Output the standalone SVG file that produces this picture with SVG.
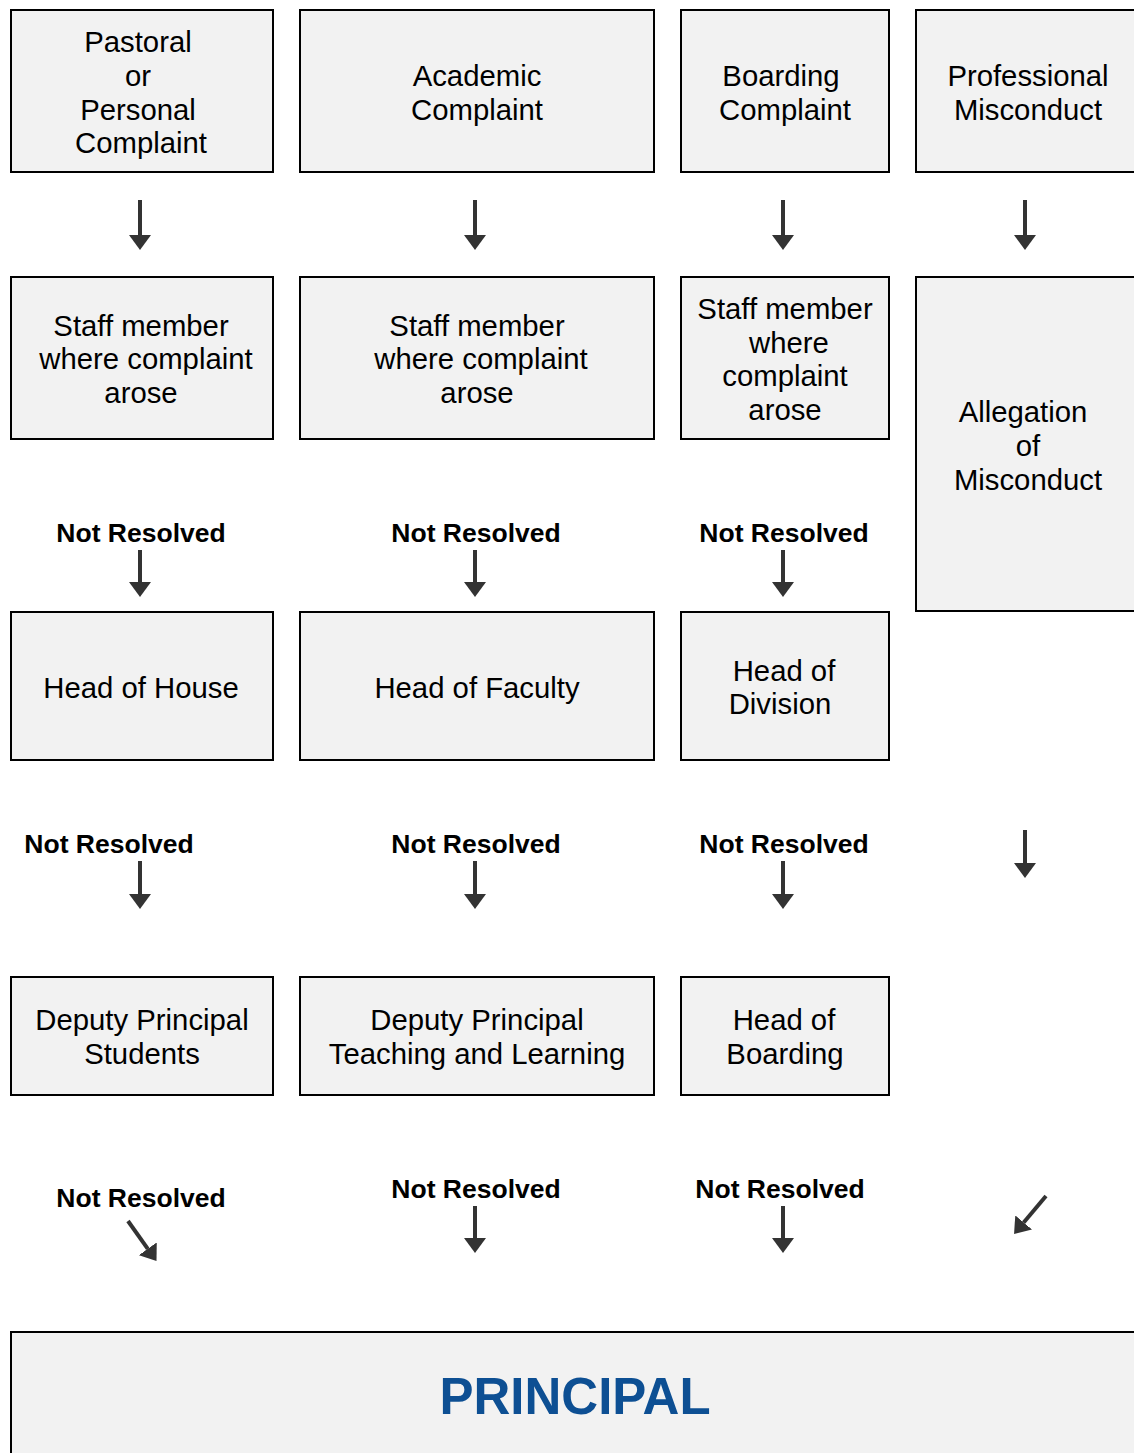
<svg xmlns="http://www.w3.org/2000/svg" width="1134" height="1453" viewBox="0 0 1134 1453">
<defs>
<style>
.box{fill:#f2f2f2;stroke:#000;stroke-width:2}
.t{font-family:"Liberation Sans",Arial,sans-serif;font-size:29.3px;fill:#000;text-anchor:middle}
.nr{font-family:"Liberation Sans",Arial,sans-serif;font-size:26.5px;font-weight:bold;fill:#000;text-anchor:middle}
.p{font-family:"Liberation Sans",Arial,sans-serif;font-size:51px;font-weight:bold;fill:#0d4f93;text-anchor:middle}
.a{stroke:#333;stroke-width:4;fill:none;marker-end:url(#ah)}
</style>
<marker id="ah" markerUnits="userSpaceOnUse" markerWidth="16" markerHeight="22" refX="0" refY="11" orient="auto">
<path d="M0,0 L15,11 L0,22 Z" fill="#333"/>
</marker>
</defs>
<rect width="1134" height="1453" fill="#fff"/>

<g id="n-pastoral"><rect class="box" x="11" y="10" width="262" height="162"/>
<text class="t"><tspan x="138" y="52">Pastoral</tspan><tspan x="138" y="86">or</tspan><tspan x="138" y="120">Personal</tspan><tspan x="141" y="153">Complaint</tspan></text></g>
<g id="n-academic"><rect class="box" x="300" y="10" width="354" height="162"/>
<text class="t"><tspan x="477" y="86">Academic</tspan><tspan x="477" y="120">Complaint</tspan></text></g>
<g id="n-boarding"><rect class="box" x="681" y="10" width="208" height="162"/>
<text class="t"><tspan x="781" y="86">Boarding</tspan><tspan x="785" y="120">Complaint</tspan></text></g>
<g id="n-professional"><rect class="box" x="916" y="10" width="230" height="162"/>
<text class="t"><tspan x="1028" y="86">Professional</tspan><tspan x="1028" y="120">Misconduct</tspan></text></g>

<g id="n-staff1"><rect class="box" x="11" y="277" width="262" height="162"/>
<text class="t"><tspan x="141" y="336">Staff member</tspan><tspan x="146" y="369">where complaint</tspan><tspan x="141" y="403">arose</tspan></text></g>
<g id="n-staff2"><rect class="box" x="300" y="277" width="354" height="162"/>
<text class="t"><tspan x="477" y="336">Staff member</tspan><tspan x="481" y="369">where complaint</tspan><tspan x="477" y="403">arose</tspan></text></g>
<g id="n-staff3"><rect class="box" x="681" y="277" width="208" height="162"/>
<text class="t"><tspan x="785" y="319">Staff member</tspan><tspan x="789" y="353">where</tspan><tspan x="785" y="386">complaint</tspan><tspan x="785" y="420">arose</tspan></text></g>
<g id="n-allegation"><rect class="box" x="916" y="277" width="230" height="334"/>
<text class="t"><tspan x="1023" y="422">Allegation</tspan><tspan x="1028" y="456">of</tspan><tspan x="1028" y="490">Misconduct</tspan></text></g>

<g id="n-house"><rect class="box" x="11" y="612" width="262" height="148"/>
<text class="t" x="141" y="698">Head of House</text></g>
<g id="n-faculty"><rect class="box" x="300" y="612" width="354" height="148"/>
<text class="t" x="477" y="698">Head of Faculty</text></g>
<g id="n-division"><rect class="box" x="681" y="612" width="208" height="148"/>
<text class="t"><tspan x="784" y="681">Head of</tspan><tspan x="780" y="714">Division</tspan></text></g>

<g id="n-dps"><rect class="box" x="11" y="977" width="262" height="118"/>
<text class="t"><tspan x="142" y="1030">Deputy Principal</tspan><tspan x="142" y="1064">Students</tspan></text></g>
<g id="n-dptl"><rect class="box" x="300" y="977" width="354" height="118"/>
<text class="t"><tspan x="477" y="1030">Deputy Principal</tspan><tspan x="477" y="1064">Teaching and Learning</tspan></text></g>
<g id="n-hob"><rect class="box" x="681" y="977" width="208" height="118"/>
<text class="t"><tspan x="784" y="1030">Head of</tspan><tspan x="785" y="1064">Boarding</tspan></text></g>

<g id="n-principal"><rect class="box" x="11" y="1332" width="1140" height="140"/>
<text class="p" x="575" y="1414">PRINCIPAL</text></g>

<g id="connectors">
<line class="a" x1="140" y1="200" x2="140" y2="235"/>
<line class="a" x1="475" y1="200" x2="475" y2="235"/>
<line class="a" x1="783" y1="200" x2="783" y2="235"/>
<line class="a" x1="1025" y1="200" x2="1025" y2="235"/>

<text class="nr" x="141" y="542">Not Resolved</text>
<text class="nr" x="476" y="542">Not Resolved</text>
<text class="nr" x="784" y="542">Not Resolved</text>
<line class="a" x1="140" y1="550" x2="140" y2="582"/>
<line class="a" x1="475" y1="550" x2="475" y2="582"/>
<line class="a" x1="783" y1="550" x2="783" y2="582"/>

<text class="nr" x="109" y="853">Not Resolved</text>
<text class="nr" x="476" y="853">Not Resolved</text>
<text class="nr" x="784" y="853">Not Resolved</text>
<line class="a" x1="140" y1="861" x2="140" y2="894"/>
<line class="a" x1="475" y1="861" x2="475" y2="894"/>
<line class="a" x1="783" y1="861" x2="783" y2="894"/>
<line class="a" x1="1025" y1="830" x2="1025" y2="863"/>

<text class="nr" x="141" y="1207">Not Resolved</text>
<text class="nr" x="476" y="1198">Not Resolved</text>
<text class="nr" x="780" y="1198">Not Resolved</text>
<line class="a" x1="128" y1="1221" x2="147.8" y2="1248.8"/>
<line class="a" x1="475" y1="1206" x2="475" y2="1238"/>
<line class="a" x1="783" y1="1206" x2="783" y2="1238"/>
<line class="a" x1="1046" y1="1196" x2="1023.7" y2="1222.5"/>
</g>
</svg>
